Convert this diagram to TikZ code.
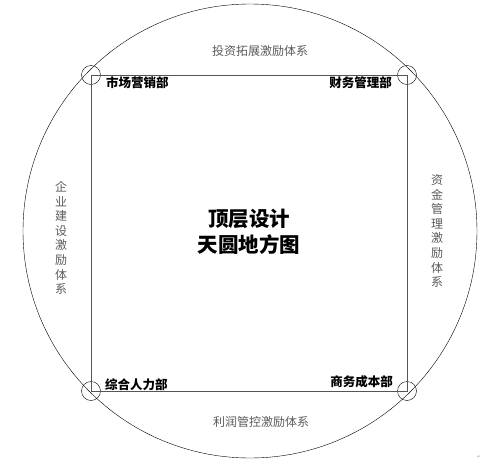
\documentclass[tikz,border=0pt]{standalone}
\usepackage{fontspec}
\usepackage{tikz}
\usetikzlibrary{shapes}
\usetikzlibrary{positioning}
\newfontfamily\cjk{Noto Sans CJK SC}
\newfontfamily\symb{DejaVu Sans}
\definecolor{lineGray}{HTML}{555555}
\definecolor{textGray}{HTML}{5A5A5A}

\begin{document}
\begin{tikzpicture}[x=1pt,y=-1pt]
				\tikzset{corner/.style = {shape=circle,draw,thin,minimum size=19pt,
						inner sep = 0pt}}
				\tikzset{dept/.style = {font=\cjk\bfseries\fontsize{12.5}{14}\selectfont, inner sep=0pt}}
				\tikzset{system/.style = {font=\cjk\fontsize{12}{14.6}\selectfont, text=textGray, inner sep=0pt, align=center}}
				\tikzset{frame/.style = {draw=lineGray, line width=0.9pt}}
				
				\useasboundingbox (0,0) rectangle (499,474);
				
				% heaven: the big circle
				\node[shape=circle, draw, thin, minimum size=454pt, inner sep=0pt] (heaven) at (250,231) {};
				
				% vertices
				\node[corner] (tl) at (91,75) {};
				\node[corner] (tr) at (407,75) {};
				\node[corner] (br) at (407,391) {};
				\node[corner] (bl) at (91,391) {};
				
				%edges
				\draw[frame] (tl.center) -- (tr.center) -- (br.center) -- (bl.center) -- cycle;
				
				% departments
				\node[dept, anchor=west] (market) at (106,83) {市场营销部};
				\node[dept, anchor=east] (finance) at (392,83) {财务管理部};
				\node[dept, anchor=west] (hr) at (105,385) {综合人力部};
				\node[dept, anchor=east] (cost) at (393,382) {商务成本部};
				
				% incentive systems
				\node[system] (invest) at (260,51) {投资拓展激励体系};
				\node[system] (profit) at (261,422) {利润管控激励体系};
				\node[system] (build) at (61,238) {企\\业\\建\\设\\激\\励\\体\\系};
				\node[system] (fund) at (437,231) {资\\金\\管\\理\\激\\励\\体\\系};
				
				\node[font=\cjk\bfseries\fontsize{20.5}{26}\selectfont, align=center, inner sep=0pt] (title) at (249,232) {顶层设计\\天圆地方图};
				
				\node[font=\symb\fontsize{5}{6}\selectfont, text=gray!70, inner sep=0pt] (mark) at (479,457) {↵};
				
\end{tikzpicture}
\end{document}
